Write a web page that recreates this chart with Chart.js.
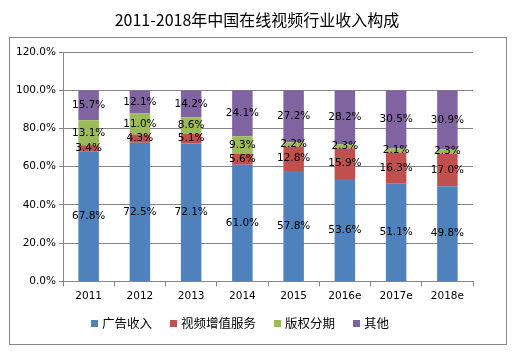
<!DOCTYPE html>
<html>
<head>
<meta charset="utf-8">
<script src="https://cdn.jsdelivr.net/npm/chart.js@4.4.1/dist/chart.umd.min.js"></script>
<style>
  html, body { margin: 0; padding: 0; background: #fff; }
  #wrap { width: 513px; height: 353px; position: relative; }
</style>
</head>
<body>
<div id="wrap"><canvas id="revChart" width="513" height="353"></canvas></div>
<script>
// 年份
const years = ['2011', '2012', '2013', '2014', '2015', '2016e', '2017e', '2018e'];

// 各部分收入占比 (%)
const adRevenue   = [67.8, 72.5, 72.1, 61.0, 57.8, 53.6, 51.1, 49.8];
const vasRevenue  = [3.4, 4.3, 5.1, 5.6, 12.8, 15.9, 16.3, 17.0];
const copyRevenue = [13.1, 11.0, 8.6, 9.3, 2.2, 2.3, 2.1, 2.3];
const otherRevenue = [15.7, 12.1, 14.2, 24.1, 27.2, 28.2, 30.5, 30.9];

const seriesNames = ['广告收入', '视频增值服务', '版权分期', '其他'];
const yTicks = [0, 20, 40, 60, 80, 100, 120];
const chartTitle = '2011-2018年中国在线视频行业收入构成';

const colors = ['#4F81BD', '#C0504D', '#9BBB59', '#8064A2'];
const numFont = '"DejaVu Sans", Verdana, sans-serif';
const cjkFont = '"Noto Sans CJK SC", "Noto Sans", sans-serif';

// 外框、标题和图例
const frame = {
    id: 'frame',
    beforeDraw(chart) {
        const ctx = chart.ctx;
        ctx.save();
        ctx.fillStyle = '#fff';
        ctx.fillRect(0, 0, chart.width, chart.height);
        ctx.strokeStyle = '#868686';
        ctx.lineWidth = 1;
        ctx.strokeRect(9.5, 37.5, 497, 307);
        ctx.fillStyle = '#000';
        ctx.font = '16px ' + cjkFont;
        ctx.textAlign = 'center';
        ctx.textBaseline = 'middle';
        ctx.fillText(chartTitle, 257, 20);

        // 图例
        ctx.font = '12.5px ' + cjkFont;
        ctx.textAlign = 'left';
        let x = 91;
        const y = 323;
        chart.data.datasets.forEach(ds => {
            ctx.fillStyle = ds.backgroundColor;
            ctx.fillRect(x, y - 3, 7, 7);
            ctx.fillStyle = '#000';
            ctx.fillText(ds.label, x + 11, y);
            x += 11 + ctx.measureText(ds.label).width + 18;
        });
        ctx.restore();
    }
};

// 数据标签
const barLabels = {
    id: 'barLabels',
    afterDatasetsDraw(chart) {
        const ctx = chart.ctx;
        ctx.save();
        ctx.font = '10.5px ' + numFont;
        ctx.fillStyle = '#000';
        ctx.textAlign = 'center';
        ctx.textBaseline = 'middle';
        chart.data.datasets.forEach((ds, i) => {
            chart.getDatasetMeta(i).data.forEach((bar, j) => {
                const y = (bar.y + bar.base) / 2;
                ctx.fillText(ds.data[j].toFixed(1) + '%', bar.x, y);
            });
        });
        ctx.restore();
    }
};

const allSeries = [adRevenue, vasRevenue, copyRevenue, otherRevenue];

const chartData = {
    labels: years,
    datasets: allSeries.map((d, i) => ({
        label: seriesNames[i],
        data: d,
        backgroundColor: colors[i],
        borderWidth: 0,
        categoryPercentage: 1,
        barPercentage: 0.4
    }))
};

const config = {
    type: 'bar',
    data: chartData,
    options: {
        responsive: false,
        animation: false,
        layout: { padding: { left: 9, right: 40, top: 52, bottom: 46 } },
        plugins: {
            legend: { display: false },
            tooltip: { enabled: false }
        },
        scales: {
            x: {
                stacked: true,
                border: { color: '#868686' },
                grid: { offset: true, drawOnChartArea: false, color: '#868686', tickLength: 5 },
                ticks: { color: '#000', font: { family: numFont, size: 10.5 }, padding: 4 }
            },
            y: {
                stacked: true,
                min: 0,
                max: 120,
                afterFit(scale) { scale.width = 54; },
                afterBuildTicks(scale) { scale.ticks = yTicks.map(v => ({ value: v })); },
                border: { color: '#868686' },
                grid: { color: '#868686', tickLength: 4 },
                ticks: {
                    color: '#000',
                    font: { family: numFont, size: 10.5 },
                    padding: 3,
                    callback: v => v.toFixed(1) + '%'
                }
            }
        }
    },
    plugins: [frame, barLabels]
};

window.onload = function() {
    const ctx = document.getElementById('revChart').getContext('2d');
    new Chart(ctx, config);
};
</script>
</body>
</html>
